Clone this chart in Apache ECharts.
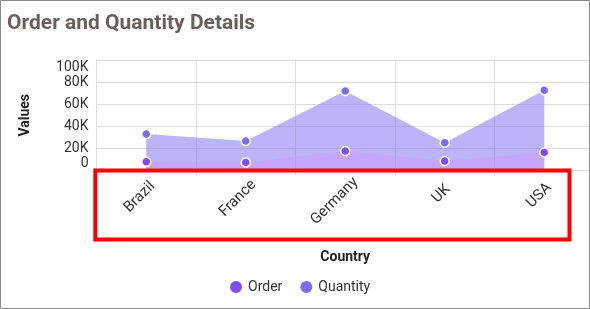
<!DOCTYPE html>
<html><head><meta charset="utf-8">
<script src="https://cdn.jsdelivr.net/npm/echarts@6/dist/echarts.min.js"></script>
<style>html,body{margin:0;padding:0;background:#fff}#c{width:590px;height:309px}</style>
</head><body><div id="c"></div>
<script>
const categories = ['Brazil', 'France', 'Germany', 'UK', 'USA'];
const orderValues = [7900, 7300, 17600, 8500, 16400];
const quantityValues = [33000, 26600, 71900, 25100, 72600];
const yTicks = [0, 20000, 40000, 60000, 80000, 100000];
const seriesNames = ['Order', 'Quantity'];

const FONT = 'Roboto, "Noto Sans", sans-serif';
const LABEL_SIZE = 15;
const cv = document.createElement('canvas').getContext('2d');
cv.font = LABEL_SIZE + 'px Roboto';
function labelItem(name) {
  const w = cv.measureText(name).width;
  return { value: name, textStyle: {
    align: 'center', verticalAlign: 'middle',
    fontFamily: FONT, fontSize: LABEL_SIZE, color: '#333',
    padding: [0.5 * w, 0.5 * w, 0, 0] } };
}

const chart = echarts.init(document.getElementById('c'), null, { renderer: 'canvas' });
chart.setOption({
  animation: false,
  backgroundColor: '#fff',
  title: {
    text: 'Order and Quantity Details', left: 7, top: 13, padding: 0,
    textStyle: { fontFamily: FONT, fontSize: 21, fontWeight: 'bold', color: '#6a5f5f' }
  },
  legend: {
    data: seriesNames, left: 228, top: 279, padding: 0, itemGap: 16,
    itemWidth: 14, itemHeight: 14, icon: 'circle',
    textStyle: { fontFamily: FONT, fontSize: 14, color: '#333' }
  },
  grid: { left: 96.5, top: 60, width: 497.5, height: 110.5, containLabel: false, outerBoundsMode: 'none' },
  xAxis: {
    type: 'category', data: categories.map(labelItem), boundaryGap: true,
    name: 'Country', nameLocation: 'middle', nameGap: 80,
    nameTextStyle: { fontFamily: FONT, fontSize: 14, fontWeight: 'bold', color: '#222' },
    axisLine: { show: true, lineStyle: { color: '#ddd', width: 1 } },
    axisTick: { show: true, length: 5, lineStyle: { color: '#ddd' } },
    splitLine: { show: true, lineStyle: { color: '#ddd', width: 1 } },
    axisLabel: {
      interval: 0, rotate: 45, margin: 20, align: 'center', verticalAlign: 'middle',
      fontFamily: FONT, fontSize: LABEL_SIZE, color: '#333', hideOverlap: false
    }
  },
  yAxis: {
    type: 'value', min: yTicks[0], max: yTicks[yTicks.length - 1], interval: yTicks[1] - yTicks[0],
    name: 'Values', nameLocation: 'middle', nameGap: 64, nameRotate: 90,
    nameTextStyle: { fontFamily: FONT, fontSize: 14, fontWeight: 'bold', color: '#222' },
    axisLine: { show: true, lineStyle: { color: '#ddd' } },
    axisTick: { show: false },
    splitLine: { show: true, lineStyle: { color: '#ddd' } },
    axisLabel: {
      margin: 8, fontFamily: FONT, fontSize: 14, color: '#333',
      verticalAlignMinLabel: 'bottom', verticalAlignMaxLabel: 'top',
      formatter: v => v === 0 ? '0' : (v / 1000) + 'K'
    }
  },
  series: [
    {
      name: seriesNames[1], type: 'line', data: quantityValues, z: 2,
      color: '#7b6cf2',
      lineStyle: { width: 0 },
      areaStyle: { color: 'rgba(123,104,240,0.5)', opacity: 1 },
      symbol: 'circle', symbolSize: 9, showSymbol: true,
      itemStyle: { color: '#7b6cf2', borderColor: '#fff', borderWidth: 1.5 }
    },
    {
      name: seriesNames[0], type: 'line', data: orderValues, z: 3,
      color: '#7d4cf5',
      lineStyle: { width: 0 },
      areaStyle: { color: 'rgba(205,150,255,0.45)', opacity: 1 },
      symbol: 'circle', symbolSize: 9, showSymbol: true,
      itemStyle: { color: '#7d4cf5', borderColor: '#fff', borderWidth: 1.5 }
    }
  ],
  graphic: [
    { type: 'rect', z: 100, silent: true, shape: { x: 0.5, y: 0.5, width: 589, height: 308 },
      style: { fill: 'none', stroke: '#8a8a8a', lineWidth: 1 } },
    { type: 'rect', z: 100, silent: true, shape: { x: 95.3, y: 170.5, width: 474.2, height: 69 },
      style: { fill: 'none', stroke: '#ff0000', lineWidth: 4 } }
  ]
});
</script></body></html>
